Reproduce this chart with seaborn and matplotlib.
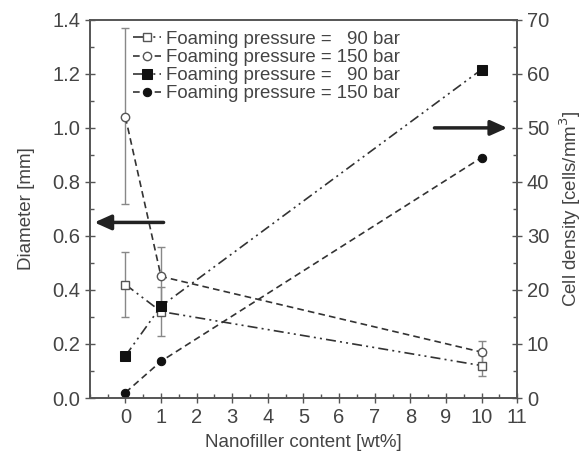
import matplotlib
matplotlib.use("Agg")
import matplotlib.pyplot as plt
import seaborn as sns
import pandas as pd
import numpy as np
from matplotlib.ticker import MultipleLocator, FormatStrFormatter

sns.set_style("ticks")
plt.rcParams['font.family'] = ['Liberation Sans', 'DejaVu Sans']

# Data
content = [0, 1, 10]
diam_90 = [0.42, 0.32, 0.12]
diam_90_lo = [0.30, 0.23, 0.08]
diam_90_hi = [0.54, 0.41, 0.16]
diam_150 = [1.04, 0.45, 0.17]
diam_150_lo = [0.72, 0.34, 0.13]
diam_150_hi = [1.37, 0.56, 0.21]
dens_90 = [7.8, 17.0, 60.8]
dens_150 = [1.0, 6.8, 44.5]
labels = ["Foaming pressure =   90 bar", "Foaming pressure = 150 bar",
          "Foaming pressure =   90 bar", "Foaming pressure = 150 bar"]

tc = "#444444"
lc = "#333333"
ec = "#888888"
dashdotdot = (0, (6, 2.5, 1.2, 2.5, 1.2, 2.5))
dashed = (0, (4, 2.5))

fig = plt.figure(figsize=(5.87, 4.51), dpi=100)
ax = fig.add_axes([0.153, 0.1175, 0.728, 0.8385])
ax2 = ax.twinx()

df = pd.DataFrame({"x": content, "d90": diam_90, "d150": diam_150,
                   "c90": dens_90, "c150": dens_150})

# error bars
ax.errorbar(content, diam_90,
            yerr=[np.array(diam_90) - np.array(diam_90_lo), np.array(diam_90_hi) - np.array(diam_90)],
            fmt="none", ecolor=ec, elinewidth=1.0, capsize=3, capthick=1.0, zorder=2)
ax.errorbar(content, diam_150,
            yerr=[np.array(diam_150) - np.array(diam_150_lo), np.array(diam_150_hi) - np.array(diam_150)],
            fmt="none", ecolor=ec, elinewidth=1.0, capsize=3, capthick=1.0, zorder=2)

sns.lineplot(data=df, x="x", y="d90", ax=ax, color=lc, lw=1.2, marker="s",
             markersize=6, markerfacecolor="white", markeredgecolor="#555555",
             markeredgewidth=1.0, linestyle=dashdotdot, label=labels[0], legend=False)
sns.lineplot(data=df, x="x", y="d150", ax=ax, color=lc, lw=1.2, marker="o",
             markersize=6, markerfacecolor="white", markeredgecolor="#555555",
             markeredgewidth=1.0, linestyle=dashed, label=labels[1], legend=False)
sns.lineplot(data=df, x="x", y="c90", ax=ax2, color=lc, lw=1.2, marker="s",
             markersize=7, markerfacecolor="#111111", markeredgecolor="#111111",
             linestyle=dashdotdot, label=labels[2], legend=False)
sns.lineplot(data=df, x="x", y="c150", ax=ax2, color=lc, lw=1.2, marker="o",
             markersize=6, markerfacecolor="#111111", markeredgecolor="#111111",
             linestyle=dashed, label=labels[3], legend=False)

ax.set_xlim(-1, 11)
ax.set_xticks(range(0, 12))
ax.xaxis.set_minor_locator(MultipleLocator(0.5))
ax.yaxis.set_major_locator(MultipleLocator(0.2))
ax.yaxis.set_minor_locator(MultipleLocator(0.1))
ax.yaxis.set_major_formatter(FormatStrFormatter("%.1f"))
ax2.yaxis.set_major_locator(MultipleLocator(10))
ax2.yaxis.set_minor_locator(MultipleLocator(5))
ax.set_ylim(0, 1.4)
ax2.set_ylim(0, 70)

for a in (ax, ax2):
    for s in a.spines.values():
        s.set_visible(True)
        s.set_color("#555555")
        s.set_linewidth(1.2)
    a.tick_params(which="major", direction="inout", length=7, width=1.0, color="#555555",
                  labelsize=14.5, labelcolor=tc)
    a.tick_params(which="minor", direction="in", length=3, width=1.0, color="#555555")

ax.set_xlabel("Nanofiller content [wt%]", fontsize=13.5, color=tc, labelpad=5)
ax.set_ylabel("Diameter [mm]", fontsize=13.5, color=tc, labelpad=12)
ax2.set_ylabel("Cell density [cells/mm$^3$]", fontsize=13.5, color=tc, labelpad=6)

# arrows
ax.annotate("", xy=(-0.95, 0.65), xytext=(1.15, 0.65),
            arrowprops=dict(arrowstyle="-|>,head_length=1.0,head_width=0.45", color="#222222", lw=2.5))
ax2.annotate("", xy=(10.8, 50), xytext=(8.6, 50),
             arrowprops=dict(arrowstyle="-|>,head_length=1.0,head_width=0.45", color="#222222", lw=2.5))

hs = ax.get_lines() + ax2.get_lines()
hs = [ln for ln in hs if ln.get_label() in labels]
leg = ax.legend(handles=hs, labels=labels, loc="upper left", bbox_to_anchor=(0.07, 1.005),
                frameon=False, fontsize=13.4, handlelength=1.5, handletextpad=0.3,
                labelspacing=0.06, borderaxespad=0.3)
for t in leg.get_texts():
    t.set_color(tc)

fig.savefig("out.png", dpi=100)
